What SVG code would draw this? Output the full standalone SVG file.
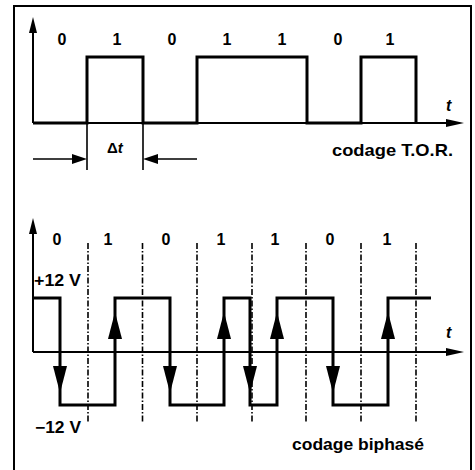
<svg xmlns="http://www.w3.org/2000/svg" width="475" height="470" viewBox="0 0 475 470">
<style>
text{font-family:"Liberation Sans",Arial,sans-serif;font-weight:bold;fill:#000}
.dig{font-size:16px;text-anchor:middle}
.lbl{font-size:17px}
.it{font-size:16px;font-style:italic}
.wave{fill:none;stroke:#000;stroke-width:3;stroke-linejoin:miter}
.axis{fill:none;stroke:#000;stroke-width:2}
.thin{fill:none;stroke:#000;stroke-width:1.6}
.dd{fill:none;stroke:#000;stroke-width:1.6;stroke-dasharray:6 2 1.5 2}
</style>
<rect x="14" y="6" width="457" height="480" fill="#fff" stroke="#000" stroke-width="2"/>

<g id="tor">
<path class="axis" d="M33,123 V28 M33,123 H450"/>
<polygon points="33,17 29,33 37,33"/>
<polygon points="464,123 446,119 446,127"/>
<path class="wave" d="M33,123 H87 V57 H143 V123 H197 V57 H307 V123 H361 V57 H416 V123"/>
<g class="dig">
<text x="62" y="45">0</text><text x="117" y="45">1</text><text x="172" y="45">0</text><text x="227" y="45">1</text><text x="282" y="45">1</text><text x="338" y="45">0</text><text x="390" y="45">1</text>
</g>
<text class="it" x="446" y="111">t</text>
<path class="thin" d="M87,123 V170 M143,123 V170 M33,159 H75 M155,159 H197"/>
<polygon points="87,159 72,154 72,164"/>
<polygon points="143,159 158,154 158,164"/>
<text x="107" y="153" style="font-size:15px">Δ<tspan font-style="italic">t</tspan></text>
<text class="lbl" x="332" y="156" textLength="121" lengthAdjust="spacingAndGlyphs">codage T.O.R.</text>
</g>

<g id="biphase">
<path class="dd" d="M88,243 V423 M142.5,243 V423 M197,243 V423 M252,243 V423 M306,243 V423 M361,243 V423 M416,243 V423"/>
<path class="axis" d="M33,352 V229 M33,352 H450"/>
<polygon points="33,218 29,234 37,234"/>
<polygon points="464,352 446,348 446,356"/>
<path class="wave" d="M33,298 H60 V405 H115 V298 H170 V405 H224 V298 H250 V405 H277 V298 H333 V405 H388 V298 H431"/>
<g id="down-arrows">
<polygon points="60,393 53,366 67,366"/>
<polygon points="170,393 163,366 177,366"/>
<polygon points="250,393 243,366 257,366"/>
<polygon points="333,393 326,366 340,366"/>
</g>
<g id="up-arrows">
<polygon points="115,312 108,339 122,339"/>
<polygon points="224,312 217,339 231,339"/>
<polygon points="277,312 270,339 284,339"/>
<polygon points="388,312 381,339 395,339"/>
</g>
<g class="dig">
<text x="57" y="245">0</text><text x="108" y="245">1</text><text x="166" y="245">0</text><text x="221" y="245">1</text><text x="275" y="245">1</text><text x="330" y="245">0</text><text x="387" y="245">1</text>
</g>
<text class="it" x="446" y="338">t</text>
<text x="34" y="286" style="font-size:16px" textLength="47" lengthAdjust="spacingAndGlyphs">+12 V</text>
<text x="35" y="433" style="font-size:16px" textLength="46" lengthAdjust="spacingAndGlyphs">−12 V</text>
<text class="lbl" x="292" y="450" textLength="132" lengthAdjust="spacingAndGlyphs">codage biphasé</text>
</g>
</svg>
